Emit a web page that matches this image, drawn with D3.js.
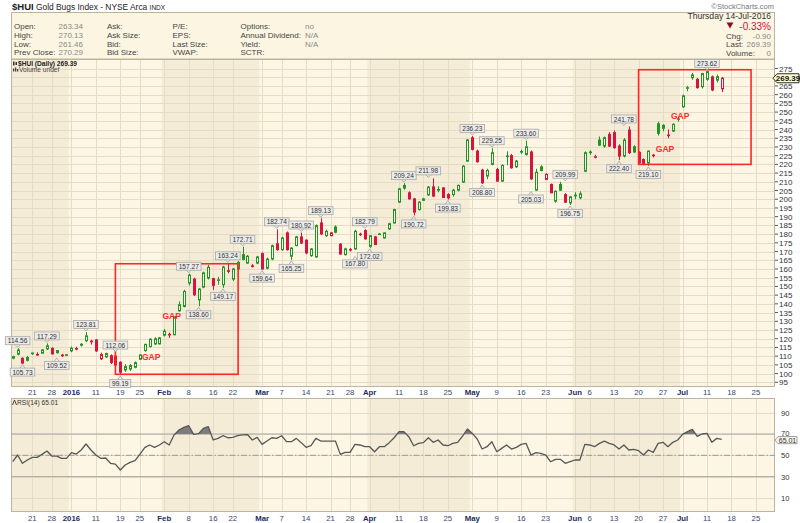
<!DOCTYPE html>
<html><head><meta charset="utf-8">
<script src="https://cdn.jsdelivr.net/npm/d3@7"></script>
<style>body{margin:0;background:#fff}svg text{font-family:"Liberation Sans",Arial,sans-serif}</style>
</head><body><svg id="c" width="800" height="523"></svg>
<script>
// ---------- DATA ----------
const dates = [
"2015-12-15","2015-12-16","2015-12-17","2015-12-18","2015-12-21","2015-12-22","2015-12-23","2015-12-24","2015-12-28","2015-12-29","2015-12-30","2015-12-31",
"2016-01-04","2016-01-05","2016-01-06","2016-01-07","2016-01-08","2016-01-11","2016-01-12","2016-01-13","2016-01-14","2016-01-15","2016-01-19","2016-01-20","2016-01-21","2016-01-22","2016-01-25","2016-01-26","2016-01-27","2016-01-28","2016-01-29",
"2016-02-01","2016-02-02","2016-02-03","2016-02-04","2016-02-05","2016-02-08","2016-02-09","2016-02-10","2016-02-11","2016-02-12","2016-02-16","2016-02-17","2016-02-18","2016-02-19","2016-02-22","2016-02-23","2016-02-24","2016-02-25","2016-02-26","2016-02-29",
"2016-03-01","2016-03-02","2016-03-03","2016-03-04","2016-03-07","2016-03-08","2016-03-09","2016-03-10","2016-03-11","2016-03-14","2016-03-15","2016-03-16","2016-03-17","2016-03-18","2016-03-21","2016-03-22","2016-03-23","2016-03-24","2016-03-28","2016-03-29","2016-03-30","2016-03-31",
"2016-04-01","2016-04-04","2016-04-05","2016-04-06","2016-04-07","2016-04-08","2016-04-11","2016-04-12","2016-04-13","2016-04-14","2016-04-15","2016-04-18","2016-04-19","2016-04-20","2016-04-21","2016-04-22","2016-04-25","2016-04-26","2016-04-27","2016-04-28","2016-04-29",
"2016-05-02","2016-05-03","2016-05-04","2016-05-05","2016-05-06","2016-05-09","2016-05-10","2016-05-11","2016-05-12","2016-05-13","2016-05-16","2016-05-17","2016-05-18","2016-05-19","2016-05-20","2016-05-23","2016-05-24","2016-05-25","2016-05-26","2016-05-27","2016-05-31",
"2016-06-01","2016-06-02","2016-06-03","2016-06-06","2016-06-07","2016-06-08","2016-06-09","2016-06-10","2016-06-13","2016-06-14","2016-06-15","2016-06-16","2016-06-17","2016-06-20","2016-06-21","2016-06-22","2016-06-23","2016-06-24","2016-06-27","2016-06-28","2016-06-29","2016-06-30",
"2016-07-01","2016-07-05","2016-07-06","2016-07-07","2016-07-08","2016-07-11","2016-07-12","2016-07-13","2016-07-14"];
const futureDates = ["2016-07-15","2016-07-18","2016-07-19","2016-07-20","2016-07-21","2016-07-22","2016-07-25","2016-07-26","2016-07-27","2016-07-28","2016-07-29"];
const prevClose0 = 108.0;
const open = [109.7,111.1,108.8,107.6,111.8,110.8,111.7,114.2,114.5,113.2,110.6,110.8,113.0,114.4,116.8,118.9,118.6,119.3,108.5,109.6,110.3,110.0,106.5,102.1,102.6,103.6,108.2,113.2,115.5,117.0,117.0,
122.0,122.5,122.3,136.0,138.5,151.9,154.2,142.3,149.6,154.8,154.5,153.5,151.0,159.0,154.2,160.0,168.2,163.4,161.8,163.4,
168.8,160.4,165.7,174.5,171.1,180.7,167.3,173.4,178.4,176.5,167.6,166.9,186.4,179.1,179.1,184.1,174.2,168.2,171.0,171.5,180.0,182.0,
173.0,178.4,179.9,177.8,183.0,186.4,198.3,207.9,203.7,200.2,194.1,200.2,202.5,207.1,205.2,206.5,202.7,202.7,205.2,209.8,221.9,
235.3,227.6,216.7,213.3,220.0,217.1,210.4,224.5,225.1,218.6,227.4,225.7,227.1,205.2,218.6,211.4,208.5,198.9,208.5,202.7,197.9,
202.0,200.8,216.1,226.9,224.2,234.0,230.5,237.2,238.2,230.5,224.8,239.7,230.1,226.9,222.8,220.9,225.0,243.3,242.4,236.5,239.1,246.0,
253.0,263.8,269.8,268.8,264.6,268.8,270.2,268.3,263.34];
const high = [110.3,114.56,109.2,110.1,112.0,112.2,114.0,117.29,115.0,113.5,111.3,111.0,115.5,115.4,117.5,123.81,119.4,119.6,112.0,112.0,111.0,112.06,107.0,105.3,105.5,107.0,111.0,117.0,120.3,120.8,121.0,
125.5,123.5,133.0,141.4,148.0,157.27,155.0,149.0,158.5,162.5,155.0,155.5,161.8,163.24,160.5,164.5,172.71,168.0,162.8,167.5,
169.5,166.5,174.0,182.74,178.5,181.5,172.5,179.0,180.92,177.0,172.0,185.5,189.13,182.5,181.2,185.0,174.8,172.2,172.0,182.5,180.8,182.79,
179.5,179.0,180.6,181.0,186.5,194.5,206.5,209.24,204.5,200.8,198.8,200.8,207.5,211.98,207.5,207.0,203.5,206.0,208.5,219.5,234.5,
236.23,228.5,217.5,217.5,229.25,218.0,220.0,227.5,226.0,222.5,228.5,233.6,228.0,217.5,219.5,215.0,209.0,205.0,209.99,203.5,202.0,
204.0,204.5,227.5,228.0,225.5,236.0,236.0,238.5,239.5,231.5,235.0,241.78,231.0,227.5,223.5,228.0,226.0,244.5,243.0,240.0,243.5,247.5,
260.0,265.0,272.5,269.5,272.5,273.62,271.0,271.5,270.13];
const low = [108.2,110.5,105.73,107.0,110.8,110.2,111.5,113.5,111.0,111.5,109.52,110.0,112.3,113.4,115.5,118.0,116.6,112.5,107.8,109.0,105.5,104.5,99.19,100.9,101.5,103.0,107.8,112.5,115.0,116.5,116.8,
121.3,120.5,122.0,135.5,138.0,150.5,144.5,138.6,149.0,154.0,148.0,151.0,149.17,157.5,153.0,159.0,165.0,163.0,160.8,162.8,
159.64,159.8,165.0,170.5,170.5,170.5,165.25,173.0,174.5,168.5,167.0,166.5,179.5,178.5,178.8,180.5,168.2,167.8,170.0,171.0,179.0,177.0,
172.02,173.8,179.5,177.5,182.5,186.0,198.0,205.5,199.8,190.72,193.5,199.0,202.0,201.5,204.0,202.0,199.83,201.5,204.5,209.5,221.5,
228.0,221.0,208.8,211.5,219.5,210.0,210.0,219.5,217.5,218.0,226.0,225.0,211.0,205.03,216.0,211.0,203.5,198.0,204.8,198.0,196.75,
200.0,200.0,215.5,225.5,223.5,230.5,229.5,230.0,229.0,222.4,224.0,226.0,226.5,220.5,219.8,219.1,224.0,236.5,239.0,235.0,238.5,244.5,
252.5,262.0,268.5,263.5,263.5,268.0,262.0,267.0,261.46];
const close = [108.9,113.5,106.0,109.2,111.4,111.0,113.6,115.9,111.3,112.0,110.3,110.5,114.5,114.1,116.3,121.6,118.2,113.0,110.9,111.5,106.3,104.9,100.8,104.0,104.6,106.3,110.7,116.8,119.7,120.0,120.5,
124.3,122.2,132.7,139.5,147.1,156.5,145.2,148.5,157.8,161.0,150.6,153.8,161.1,158.6,160.0,163.8,165.5,167.3,161.5,166.9,
160.0,165.7,173.4,171.1,177.8,171.1,172.0,178.4,174.9,169.2,171.5,184.9,180.1,181.6,180.7,181.1,168.6,171.5,171.2,181.6,179.7,177.2,
179.1,174.0,180.1,180.7,186.0,194.1,206.0,206.4,200.2,192.6,198.3,199.4,207.0,201.8,205.6,201.0,200.8,205.2,207.9,219.0,234.0,
228.6,221.5,209.4,216.5,226.7,210.4,219.4,224.8,218.1,221.9,227.1,230.1,211.7,215.5,216.5,214.2,203.7,204.6,205.2,198.3,201.4,
202.3,203.1,226.7,227.1,224.4,231.1,235.3,230.5,229.6,224.8,234.0,226.7,227.1,220.9,220.6,227.6,225.3,237.8,240.7,236.8,243.0,246.2,
259.3,264.0,271.3,264.0,272.1,273.2,262.7,270.29,269.39];
const rsi = [44.0,50.3,42.5,45.6,48.1,48.1,50.9,54.0,49.3,49.3,47.2,47.2,52.5,51.2,55.0,60.6,55.0,50.3,47.2,47.5,42.5,41.8,36.2,40.9,43.4,45.0,50.9,57.2,59.7,57.5,59.7,
62.8,59.7,69.0,73.7,76.2,77.8,69.7,70.3,75.3,76.9,64.4,65.9,68.4,66.5,66.9,68.4,69.2,69.5,64.4,66.9,
60.3,63.4,66.5,65.9,68.4,62.8,62.8,65.9,61.9,57.5,59.0,65.9,63.4,63.4,63.4,63.4,50.9,52.8,52.8,60.3,59.7,58.1,
58.1,53.4,58.1,58.1,61.9,66.5,72.2,72.2,67.5,59.0,61.2,61.9,66.5,62.2,64.4,59.7,59.0,61.2,62.2,68.1,74.7,
70.6,65.3,55.9,58.1,62.8,53.4,56.5,59.7,55.9,57.5,60.3,61.2,50.3,52.5,51.9,50.3,44.0,46.2,46.2,42.5,44.0,
45.6,45.6,60.3,59.7,58.1,61.2,63.4,61.2,59.7,55.9,59.7,55.0,55.6,54.3,50.3,55.0,52.8,61.2,62.2,58.1,62.2,64.4,
69.7,72.2,74.4,67.8,70.0,70.6,62.2,65.9,65.01];
const hiLabels = [["2015-12-16",114.56],["2015-12-24",117.29],["2016-01-07",123.81],["2016-01-15",112.06],["2016-02-08",157.27],["2016-02-19",163.24],["2016-02-24",172.71],["2016-03-04",182.74],["2016-03-11",180.92],["2016-03-17",189.13],["2016-03-31",182.79],["2016-04-12",209.24],["2016-04-19",211.98],["2016-05-02",236.23],["2016-05-06",229.25],["2016-05-17",233.60],["2016-05-27",209.99],["2016-06-15",241.78],["2016-07-11",273.62]];
const loLabels = [["2015-12-17",105.73],["2015-12-29",109.52],["2016-01-19",99.19],["2016-02-10",138.60],["2016-02-18",149.17],["2016-03-01",159.64],["2016-03-09",165.25],["2016-03-29",167.80],["2016-04-01",172.02],["2016-04-14",190.72],["2016-04-25",199.83],["2016-05-04",208.80],["2016-05-18",205.03],["2016-05-31",196.75],["2016-06-14",222.40],["2016-06-22",219.10]];
const gapLabels = [[28.3,109.6],[32.5,133.0],[133.4,228.8],[136.5,247.9]]; // [day index, price]
const boxes = [[21.0,46.1,163.0,99.6],[128.0,151.0,274.3,220.0]]; // [from index, to index, top price, bottom price]
const xTicks = [["2015-12-21","21"],["2015-12-28","28"],["2016-01-04","2016"],["2016-01-11","11"],["2016-01-19","19"],["2016-01-25","25"],["2016-02-01","Feb"],["2016-02-08","8"],["2016-02-16","16"],["2016-02-22","22"],["2016-03-01","Mar"],["2016-03-07","7"],["2016-03-14","14"],["2016-03-21","21"],["2016-03-28","28"],["2016-04-01","Apr"],["2016-04-11","11"],["2016-04-18","18"],["2016-04-25","25"],["2016-05-02","May"],["2016-05-09","9"],["2016-05-16","16"],["2016-05-23","23"],["2016-06-01","Jun"],["2016-06-06","6"],["2016-06-13","13"],["2016-06-20","20"],["2016-06-27","27"],["2016-07-01","Jul"],["2016-07-11","11"],["2016-07-18","18"],["2016-07-25","25"]];
const boldTicks = ["2016","Feb","Mar","Apr","May","Jun","Jul"];
const monthStarts = ["2016-01-04","2016-02-01","2016-03-01","2016-04-01","2016-05-02","2016-06-01","2016-07-01"];
const priceTicks = d3.range(95, 276, 5);
const hiddenPriceLabels = [270]; // covered by the last-price tag
const rsiTicks = [10,30,50,70,90];
const hdrCol1 = ["Open:","High:","Low:","Prev Close:"], hdrVal1 = ["263.34","270.13","261.46","270.29"];
const hdrCol2 = ["Ask:","Ask Size:","Bid:","Bid Size:"];
const hdrCol3 = ["P/E:","EPS:","Last Size:","VWAP:"];
const hdrCol4 = ["Options:","Annual Dividend:","Yield:","SCTR:"], hdrVal4 = ["no","N/A","N/A",""];
const lastPrice = 269.39, lastRsi = 65.01;

// ---------- LAYOUT ----------
const allDates = dates.concat(futureDates);
const idx = d => allDates.indexOf(d);
const svg = d3.select("#c");
const L = 11, R = 775;
const PT = 59, PB = 387, RT = 398, RB = 512;
const x = d3.scaleLinear().domain([-0.35, 155.9]).range([L, R]);
const y = d3.scaleLinear().domain([95, 275]).range([382.3, 68.5]);
const ry = d3.scaleLinear().domain([-3.2, 103.8]).range([RB, RT]);
const GREEN = "#1f961f", RED = "#d8143a";
const LIGHT = "#fdf6e4", DARK = "#f4ecd7", GRID = "#e6dcc3", BORDER = "#bcb49c";
const NAVY = "#1d2c5a";
const HF = 8;

svg.append("rect").attr("width",800).attr("height",523).attr("fill","#fff");

// title
const t = svg.append("text").attr("x",12).attr("y",9.5).attr("font-size",8.4).attr("fill","#222");
t.append("tspan").attr("font-weight","bold").attr("font-size",9.5).text("$HUI");
t.append("tspan").text(" Gold Bugs Index - NYSE Arca ");
t.append("tspan").attr("font-size",6.5).text("INDX");
svg.append("text").attr("x",774).attr("y",8.5).attr("text-anchor","end").attr("font-size",7.5).attr("fill","#777").text("\u00A9StockCharts.com");

// header box
svg.append("rect").attr("x",L+0.5).attr("y",12.5).attr("width",R-L-1).attr("height",PT-12.5).attr("fill","#fcf5e2").attr("stroke",BORDER);
const rowsY = [28.5,37.5,46.5,55.2];
function col(arr, xx, color){ arr.forEach((s,k)=> svg.append("text").attr("x",xx).attr("y",rowsY[k]).attr("font-size",HF).attr("fill",color).text(s)); }
col(hdrCol1,14,"#444"); col(hdrVal1,58.5,"#8a8a8a"); col(hdrCol2,107,"#444"); col(hdrCol3,172.5,"#444"); col(hdrCol4,240.5,"#444"); col(hdrVal4,305,"#8a8a8a");
svg.append("text").attr("x",771).attr("y",19).attr("text-anchor","end").attr("font-size",8.6).attr("fill","#333").text("Thursday  14-Jul-2016");
svg.append("path").attr("d","M726.5,22.5 L733.5,22.5 L730,28.5 Z").attr("fill","#8b0b24");
svg.append("text").attr("x",771).attr("y",30).attr("text-anchor","end").attr("font-size",10).attr("fill","#c8143a").text("-0.33%");
[["Chg:","-0.90",38.5],["Last:","269.39",47.3],["Volume:","0",56.2]].forEach(r=>{
  svg.append("text").attr("x",726).attr("y",r[2]).attr("font-size",HF).attr("fill","#444").text(r[0]);
  svg.append("text").attr("x",771).attr("y",r[2]).attr("text-anchor","end").attr("font-size",HF).attr("fill","#8a8a8a").text(r[1]);
});

// month bands
const bandEdges = [-0.35].concat(monthStarts.map(d=>idx(d)-0.5)).concat([155.9]);
function bands(top, bottom){
  for(let k=0;k<bandEdges.length-1;k++){
    svg.append("rect").attr("x",x(bandEdges[k])).attr("y",top).attr("width",x(bandEdges[k+1])-x(bandEdges[k]))
      .attr("height",bottom-top).attr("fill", k%2===0 ? DARK : LIGHT);
  }
}
bands(PT, PB); bands(RT, RB);

// grid
const gP = svg.append("g").attr("stroke",GRID).attr("stroke-width",1);
priceTicks.forEach(v=> gP.append("line").attr("x1",L).attr("x2",R).attr("y1",Math.round(y(v))+0.5).attr("y2",Math.round(y(v))+0.5));
xTicks.forEach(tk=>{ const xx=Math.round(x(idx(tk[0])))+0.5;
  gP.append("line").attr("x1",xx).attr("x2",xx).attr("y1",PT).attr("y2",PB);
  gP.append("line").attr("x1",xx).attr("x2",xx).attr("y1",RT).attr("y2",RB); });
rsiTicks.forEach(v=> gP.append("line").attr("x1",L).attr("x2",R).attr("y1",Math.round(ry(v))+0.5).attr("y2",Math.round(ry(v))+0.5));

// panel borders
svg.append("rect").attr("x",L+0.5).attr("y",PT+0.5).attr("width",R-L-1).attr("height",PB-PT-1).attr("fill","none").attr("stroke",BORDER);
svg.append("rect").attr("x",L+0.5).attr("y",RT+0.5).attr("width",R-L-1).attr("height",RB-RT-1).attr("fill","none").attr("stroke",BORDER);

// price axis
priceTicks.forEach(v=>{
  svg.append("line").attr("x1",R).attr("x2",R+3).attr("y1",y(v)).attr("y2",y(v)).attr("stroke","#555");
  if(!hiddenPriceLabels.includes(v))
    svg.append("text").attr("x",R+4).attr("y",y(v)+3).attr("font-size",8).attr("fill","#333").text(v);
});

// legend
svg.append("rect").attr("x",13).attr("y",61.5).attr("width",1.5).attr("height",4).attr("fill","#333");
svg.append("rect").attr("x",15.5).attr("y",62).attr("width",1.5).attr("height",3).attr("fill","#333");
svg.append("text").attr("x",18).attr("y",66).attr("font-size",6.6).attr("fill","#222").attr("font-weight","bold").text("$HUI (Daily) 269.39");
[[13,3],[15,4],[17,2.5]].forEach(b=>svg.append("rect").attr("x",b[0]).attr("y",71.5-b[1]).attr("width",1.3).attr("height",b[1]).attr("fill","#444"));
svg.append("text").attr("x",19).attr("y",72).attr("font-size",6.6).attr("fill","#444").text("Volume undef");

// candles
const candles = dates.map((d,i)=>{
  const pc = i ? close[i-1] : prevClose0;
  return {i, o:open[i], h:high[i], l:low[i], c:close[i], up: close[i]>=pc, hollow: close[i]>=open[i]};
});
const gc = svg.append("g");
gc.selectAll("path").data(candles).join("path")
  .attr("d", d=>{ const xx=Math.round(x(d.i))+0.5, top=y(Math.max(d.o,d.c)), bot=y(Math.min(d.o,d.c));
    return `M${xx},${y(d.h)}V${top}M${xx},${bot}V${y(d.l)}`; })
  .attr("stroke", d=>d.up?GREEN:RED).attr("stroke-width",1).attr("fill","none");
gc.selectAll("rect").data(candles).join("rect")
  .attr("x", d=>Math.round(x(d.i))-0.5).attr("width",2)
  .attr("y", d=>y(Math.max(d.o,d.c))).attr("height", d=>Math.max(0.6, y(Math.min(d.o,d.c))-y(Math.max(d.o,d.c))))
  .attr("fill", d=> d.hollow ? "#fffdf6" : (d.up?GREEN:RED))
  .attr("stroke", d=>d.up?GREEN:RED).attr("stroke-width",1);

// red boxes
boxes.forEach(b=> svg.append("rect").attr("x",x(b[0])).attr("y",y(b[2])).attr("width",x(b[1])-x(b[0])).attr("height",y(b[3])-y(b[2]))
  .attr("fill","none").attr("stroke","#ff2626").attr("stroke-width",1.6));
// GAP
gapLabels.forEach(g=> svg.append("text").attr("x",x(g[0])).attr("y",y(g[1])+3).attr("text-anchor","middle")
  .attr("font-size",8.5).attr("font-weight","bold").attr("fill","#ff2a2a").text("GAP"));

// hi / lo labels
function tag(d, v, above){
  const xx = x(idx(d)), yy = y(v);
  const s = v.toFixed(2), w = s.length*3.6+3, h = 8;
  const cy = above ? yy-7.5 : yy+8.5;
  const g = svg.append("g");
  const tipY = above ? yy-1 : yy+1, baseY = above ? cy+h/2 : cy-h/2;
  g.append("path").attr("d",`M${xx-2.5},${baseY}L${xx},${tipY}L${xx+2.5},${baseY}`).attr("fill","#eeeeea").attr("stroke","#a0a0a0").attr("stroke-width",0.8);
  g.append("rect").attr("x",xx-w/2).attr("y",cy-h/2).attr("width",w).attr("height",h).attr("fill","#ececea").attr("stroke","#a8a8a8").attr("stroke-width",0.8);
  g.append("text").attr("x",xx).attr("y",cy+2.6).attr("text-anchor","middle").attr("font-size",6.6).attr("fill","#333").text(s);
}
hiLabels.forEach(a=>tag(a[0],a[1],true));
loLabels.forEach(a=>tag(a[0],a[1],false));

// last price tag
{ const yy=y(lastPrice);
  svg.append("path").attr("d",`M773,${yy} L777,${yy-4.5} L799,${yy-4.5} L799,${yy+4.5} L777,${yy+4.5} Z`).attr("fill","#ffffd0").attr("stroke","#111").attr("stroke-width",0.9);
  svg.append("text").attr("x",788).attr("y",yy+3).attr("text-anchor","middle").attr("font-size",8).attr("font-weight","bold").attr("fill","#111").text(lastPrice.toFixed(2)); }

// x axis labels
function xLabels(cy){
  xTicks.forEach(tk=>{ const b = boldTicks.includes(tk[1]);
    svg.append("text").attr("x",x(idx(tk[0]))).attr("y",cy).attr("text-anchor","middle").attr("font-size",7.8)
      .attr("font-weight", b?"bold":"normal").attr("fill", b?NAVY:"#3c4868").text(tk[1]); });
}
xLabels(395.3); xLabels(521);

// RSI
const rl = (v,dash,col)=> svg.append("line").attr("x1",L).attr("x2",R).attr("y1",ry(v)).attr("y2",ry(v)).attr("stroke",col).attr("stroke-width",1).attr("stroke-dasharray",dash);
rl(70,null,"#a6a6a6"); rl(30,null,"#a6a6a6"); rl(50,"6,2,1.5,2","#9a9a9a");
svg.append("clipPath").attr("id","above70").append("rect").attr("x",L).attr("y",RT).attr("width",R-L).attr("height",ry(70)-RT);
const rsiPts = rsi.map((v,i)=>[i,v]);
svg.append("path").datum(rsiPts).attr("clip-path","url(#above70)")
  .attr("d", d3.area().x(d=>x(d[0])).y0(ry(70)).y1(d=>ry(d[1]))).attr("fill","#7d7d7d");
svg.append("path").datum(rsiPts).attr("d", d3.line().x(d=>x(d[0])).y(d=>ry(d[1])))
  .attr("fill","none").attr("stroke","#575757").attr("stroke-width",1.3).attr("stroke-linejoin","round");
rsiTicks.forEach(v=> svg.append("text").attr("x",R+6).attr("y",ry(v)+(v===70?2:3)).attr("font-size",7.6).attr("fill","#333").text(v));
svg.append("path").attr("d","M12.5,405 L14.5,400 L16.5,405").attr("fill","none").attr("stroke","#333").attr("stroke-width",0.9);
svg.append("text").attr("x",17).attr("y",405).attr("font-size",6.6).attr("fill","#333").text("RSI(14) 65.01");
{ const yy=ry(lastRsi)+0.8;
  svg.append("path").attr("d",`M775,${yy} L778,${yy-3.6} L797,${yy-3.6} L797,${yy+3.6} L778,${yy+3.6} Z`).attr("fill","#f6f3e8").attr("stroke","#888").attr("stroke-width",0.8);
  svg.append("text").attr("x",787.5).attr("y",yy+2.5).attr("text-anchor","middle").attr("font-size",7).attr("fill","#333").text(lastRsi.toFixed(2)); }
</script></body></html>
